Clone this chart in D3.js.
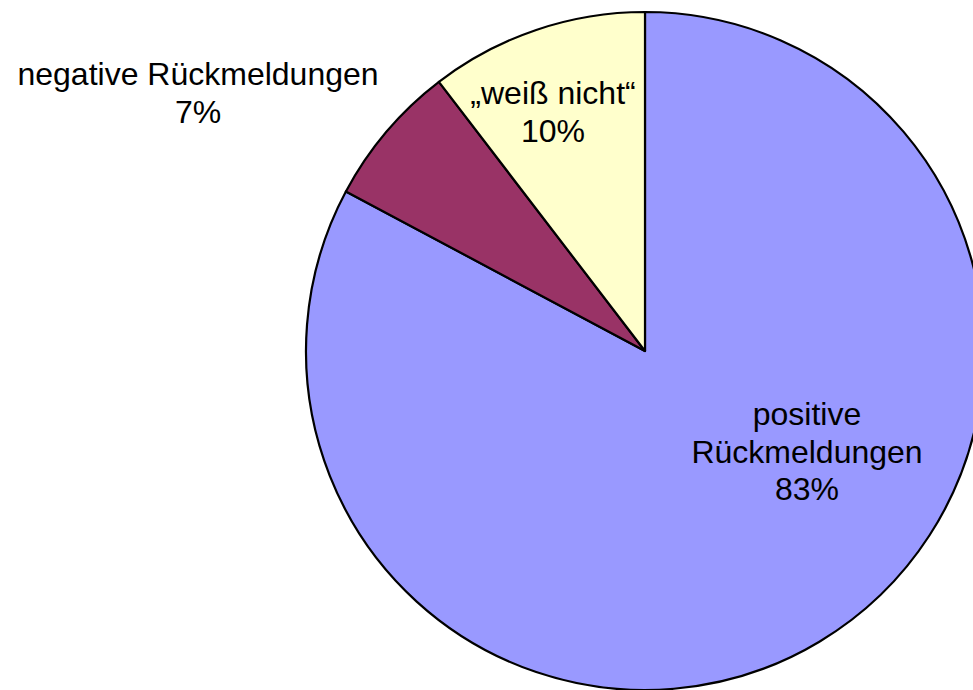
<!DOCTYPE html>
<html>
<head>
<meta charset="utf-8">
<script src="https://cdn.jsdelivr.net/npm/d3@7"></script>
<style>
  body { margin: 0; background: #fff; }
  svg text { font-family: "Liberation Sans", Arial, sans-serif; font-size: 32px; fill: #000; }
</style>
</head>
<body>
<div id="main"></div>
<script>
var width = 973;
var height = 690;

// slices, clockwise from 12 o'clock
var categories = ["positive Rückmeldungen", "negative Rückmeldungen", "„weiß nicht“"];
var values = [82.8, 6.8, 10.4];
var pctLabels = ["83%", "7%", "10%"];
var colors = ["#9999ff", "#993366", "#ffffcc"];

// label lines and where they sit (centre x, first baseline y)
var labelLines = [["positive", "Rückmeldungen", "83%"],
                  ["negative Rückmeldungen", "7%"],
                  ["„weiß nicht“", "10%"]];
var labelPos = [[807, 425], [198, 85], [553, 104]];

var CX = 645, CY = 351, R = 339;
var LINE = 37.5;

function init(){
  var data = categories.map(function(c, i){
    return {name: c, value: values[i], color: colors[i], lines: labelLines[i], pos: labelPos[i]};
  });

  var svg = d3.select("#main")
    .append("svg")
    .attr("width", width)
    .attr("height", height);

  var pie = d3.pie()
    .sort(null)
    .value(function(d){ return d.value; });

  var arc = d3.arc()
    .innerRadius(0)
    .outerRadius(R);

  var g = svg.append("g")
    .attr("transform", "translate(" + CX + "," + CY + ")");

  g.selectAll(".slice")
    .data(pie(data))
    .enter()
    .append("path")
    .attr("class", "slice")
    .attr("d", arc)
    .attr("fill", function(d){ return d.data.color; })
    .attr("stroke", "#000")
    .attr("stroke-width", 2.2)
    .attr("stroke-linejoin", "round");

  var labels = svg.selectAll(".lbl")
    .data(data)
    .enter()
    .append("text")
    .attr("class", "lbl")
    .attr("text-anchor", "middle");

  labels.selectAll("tspan")
    .data(function(d){
      return d.lines.map(function(l, j){ return {t: l, x: d.pos[0], y: d.pos[1] + j * LINE}; });
    })
    .enter()
    .append("tspan")
    .attr("x", function(d){ return d.x; })
    .attr("y", function(d){ return d.y; })
    .text(function(d){ return d.t; });
}
init();
</script>
</body>
</html>
